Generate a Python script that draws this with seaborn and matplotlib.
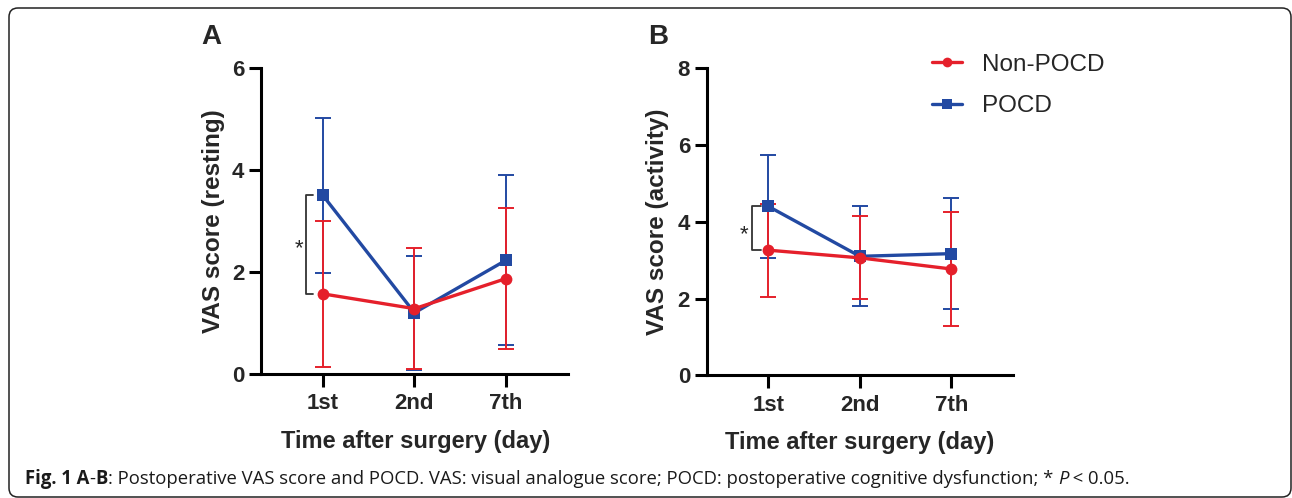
import numpy as np
import pandas as pd
import matplotlib
matplotlib.use("Agg")
import matplotlib.pyplot as plt
from matplotlib.lines import Line2D
from matplotlib.patches import FancyBboxPatch
from matplotlib.transforms import IdentityTransform
import seaborn as sns

# data (mean and SD)
days = ["1st", "2nd", "7th"]
groups = ["Non-POCD", "POCD"]

rest_non_mean = [1.57, 1.28, 1.87]
rest_non_sd = [1.43, 1.19, 1.39]
rest_pocd_mean = [3.50, 1.20, 2.23]
rest_pocd_sd = [1.52, 1.12, 1.66]

act_non_mean = [3.26, 3.06, 2.77]
act_non_sd = [1.21, 1.08, 1.48]
act_pocd_mean = [4.40, 3.10, 3.17]
act_pocd_sd = [1.35, 1.30, 1.44]

palette = {"Non-POCD": "#E5202B", "POCD": "#2249A2"}
markers = {"Non-POCD": "o", "POCD": "s"}

sns.set_style("ticks")
plt.rcParams["font.family"] = ["Liberation Sans", "DejaVu Sans"]


def make_frame(non_mean, non_sd, pocd_mean, pocd_sd):
    return pd.DataFrame({
        "day": days * 2,
        "group": [groups[0]] * 3 + [groups[1]] * 3,
        "mean": non_mean + pocd_mean,
        "sd": non_sd + pocd_sd,
    })


def draw_panel(ax, df, ymax, yticks, ylabel, bracket, star):
    # error bars (SD) first, lines on top
    for g in ["POCD", "Non-POCD"]:
        sub = df[df["group"] == g]
        ax.errorbar(np.arange(len(days)), sub["mean"], yerr=sub["sd"], fmt="none",
                    ecolor=palette[g], elinewidth=1.4, capsize=5.5, capthick=1.4,
                    zorder=2, clip_on=False)
    sns.lineplot(data=df, x="day", y="mean", hue="group", style="group",
                 hue_order=["POCD", "Non-POCD"], style_order=["POCD", "Non-POCD"],
                 markers=markers, dashes=False, palette=palette, linewidth=2.4,
                 markersize=8.5, markeredgewidth=0, sort=False, legend=False,
                 ax=ax, zorder=3)

    ax.set_xlim(-0.675, 2.675)
    ax.set_ylim(0, ymax)
    ax.set_yticks(yticks)
    ax.set_xticks(range(len(days)))
    ax.set_xticklabels(days)
    ax.set_xlabel("Time after surgery (day)", fontsize=17, fontweight="bold")
    ax.set_ylabel(ylabel, fontsize=17.5, fontweight="bold")
    sns.despine(ax=ax)
    for s in ["left", "bottom"]:
        ax.spines[s].set_linewidth(2.2)
        ax.spines[s].set_color("black")
    ax.tick_params(width=2.2, length=9, labelsize=16, pad=3, color="black")
    ax.tick_params(axis="x", pad=5)
    for lab in ax.get_xticklabels() + ax.get_yticklabels():
        lab.set_fontweight("bold")

    # significance bracket at day 1
    bx, tx, y0, y1 = bracket
    ax.plot([tx, bx, bx, tx], [y0, y0, y1, y1], color="#333333", lw=1.3,
            clip_on=False, zorder=1)
    ax.text(star[0], star[1], "*", fontsize=16, ha="center", va="center")


fig = plt.figure(figsize=(12.92, 4.98), dpi=100)
ax_a = fig.add_axes([0.2020, 0.249, 0.2376, 0.615])
ax_b = fig.add_axes([0.5470, 0.2464, 0.2371, 0.6165])

df_rest = make_frame(rest_non_mean, rest_non_sd, rest_pocd_mean, rest_pocd_sd)
df_act = make_frame(act_non_mean, act_non_sd, act_pocd_mean, act_pocd_sd)

draw_panel(ax_a, df_rest, 6, [0, 2, 4, 6], "VAS score (resting)",
           (-0.186, -0.11, rest_pocd_mean[0], rest_non_mean[0]), (-0.26, 2.45))
draw_panel(ax_b, df_act, 8, [0, 2, 4, 6, 8], "VAS score (activity)",
           (-0.18, -0.085, act_pocd_mean[0], act_non_mean[0]), (-0.27, 3.66))

ax_a.yaxis.set_label_coords(-0.118, 0.5)
ax_b.yaxis.set_label_coords(-0.123, 0.5)
ax_a.xaxis.set_label_coords(0.503, -0.183)
ax_b.xaxis.set_label_coords(0.50, -0.183)

fig.text(211 / 1292, 1 - 37.5 / 498, "A", fontsize=20, fontweight="bold",
         ha="center", va="center")
fig.text(658 / 1292, 1 - 37.5 / 498, "B", fontsize=20, fontweight="bold",
         ha="center", va="center")

handles = [Line2D([], [], color=palette[g], marker=markers[g], lw=2.4,
                  markersize=7, markeredgewidth=0) for g in groups]
fig.legend(handles, groups, loc="center left", bbox_to_anchor=(932 / 1292, 1 - 85.5 / 498),
           frameon=False, fontsize=17.5, handlelength=1.25, handletextpad=0.8,
           labelspacing=0.8, borderpad=0, borderaxespad=0)

# rounded frame around the figure
frame = FancyBboxPatch((9, 1), 1282, 489, boxstyle="round,pad=0,rounding_size=9",
                       transform=IdentityTransform(), fill=False, ec="#222222",
                       lw=1.1, zorder=10)
fig.patches.append(frame)

# caption, pieced together
pieces = [
    ("Fig. 1 A", "bold", "normal"),
    ("-", "normal", "normal"),
    ("B", "bold", "normal"),
    (": Postoperative VAS score and POCD. VAS: visual analogue score; POCD: "
     "postoperative cognitive dysfunction; * ", "normal", "normal"),
    ("P", "normal", "italic"),
    (" < 0.05.", "normal", "normal"),
]
renderer = fig.canvas.get_renderer()
x = 25
for txt, weight, style in pieces:
    t = fig.text(x / 1292, 1 - 484 / 498, txt, fontsize=13.35, fontweight=weight,
                 fontstyle=style, va="baseline", ha="left", color="#1a1a1a",
                 family=["Open Sans", "DejaVu Sans"])
    bb = t.get_window_extent(renderer)
    x += bb.width

fig.savefig("out.png", dpi=100)
